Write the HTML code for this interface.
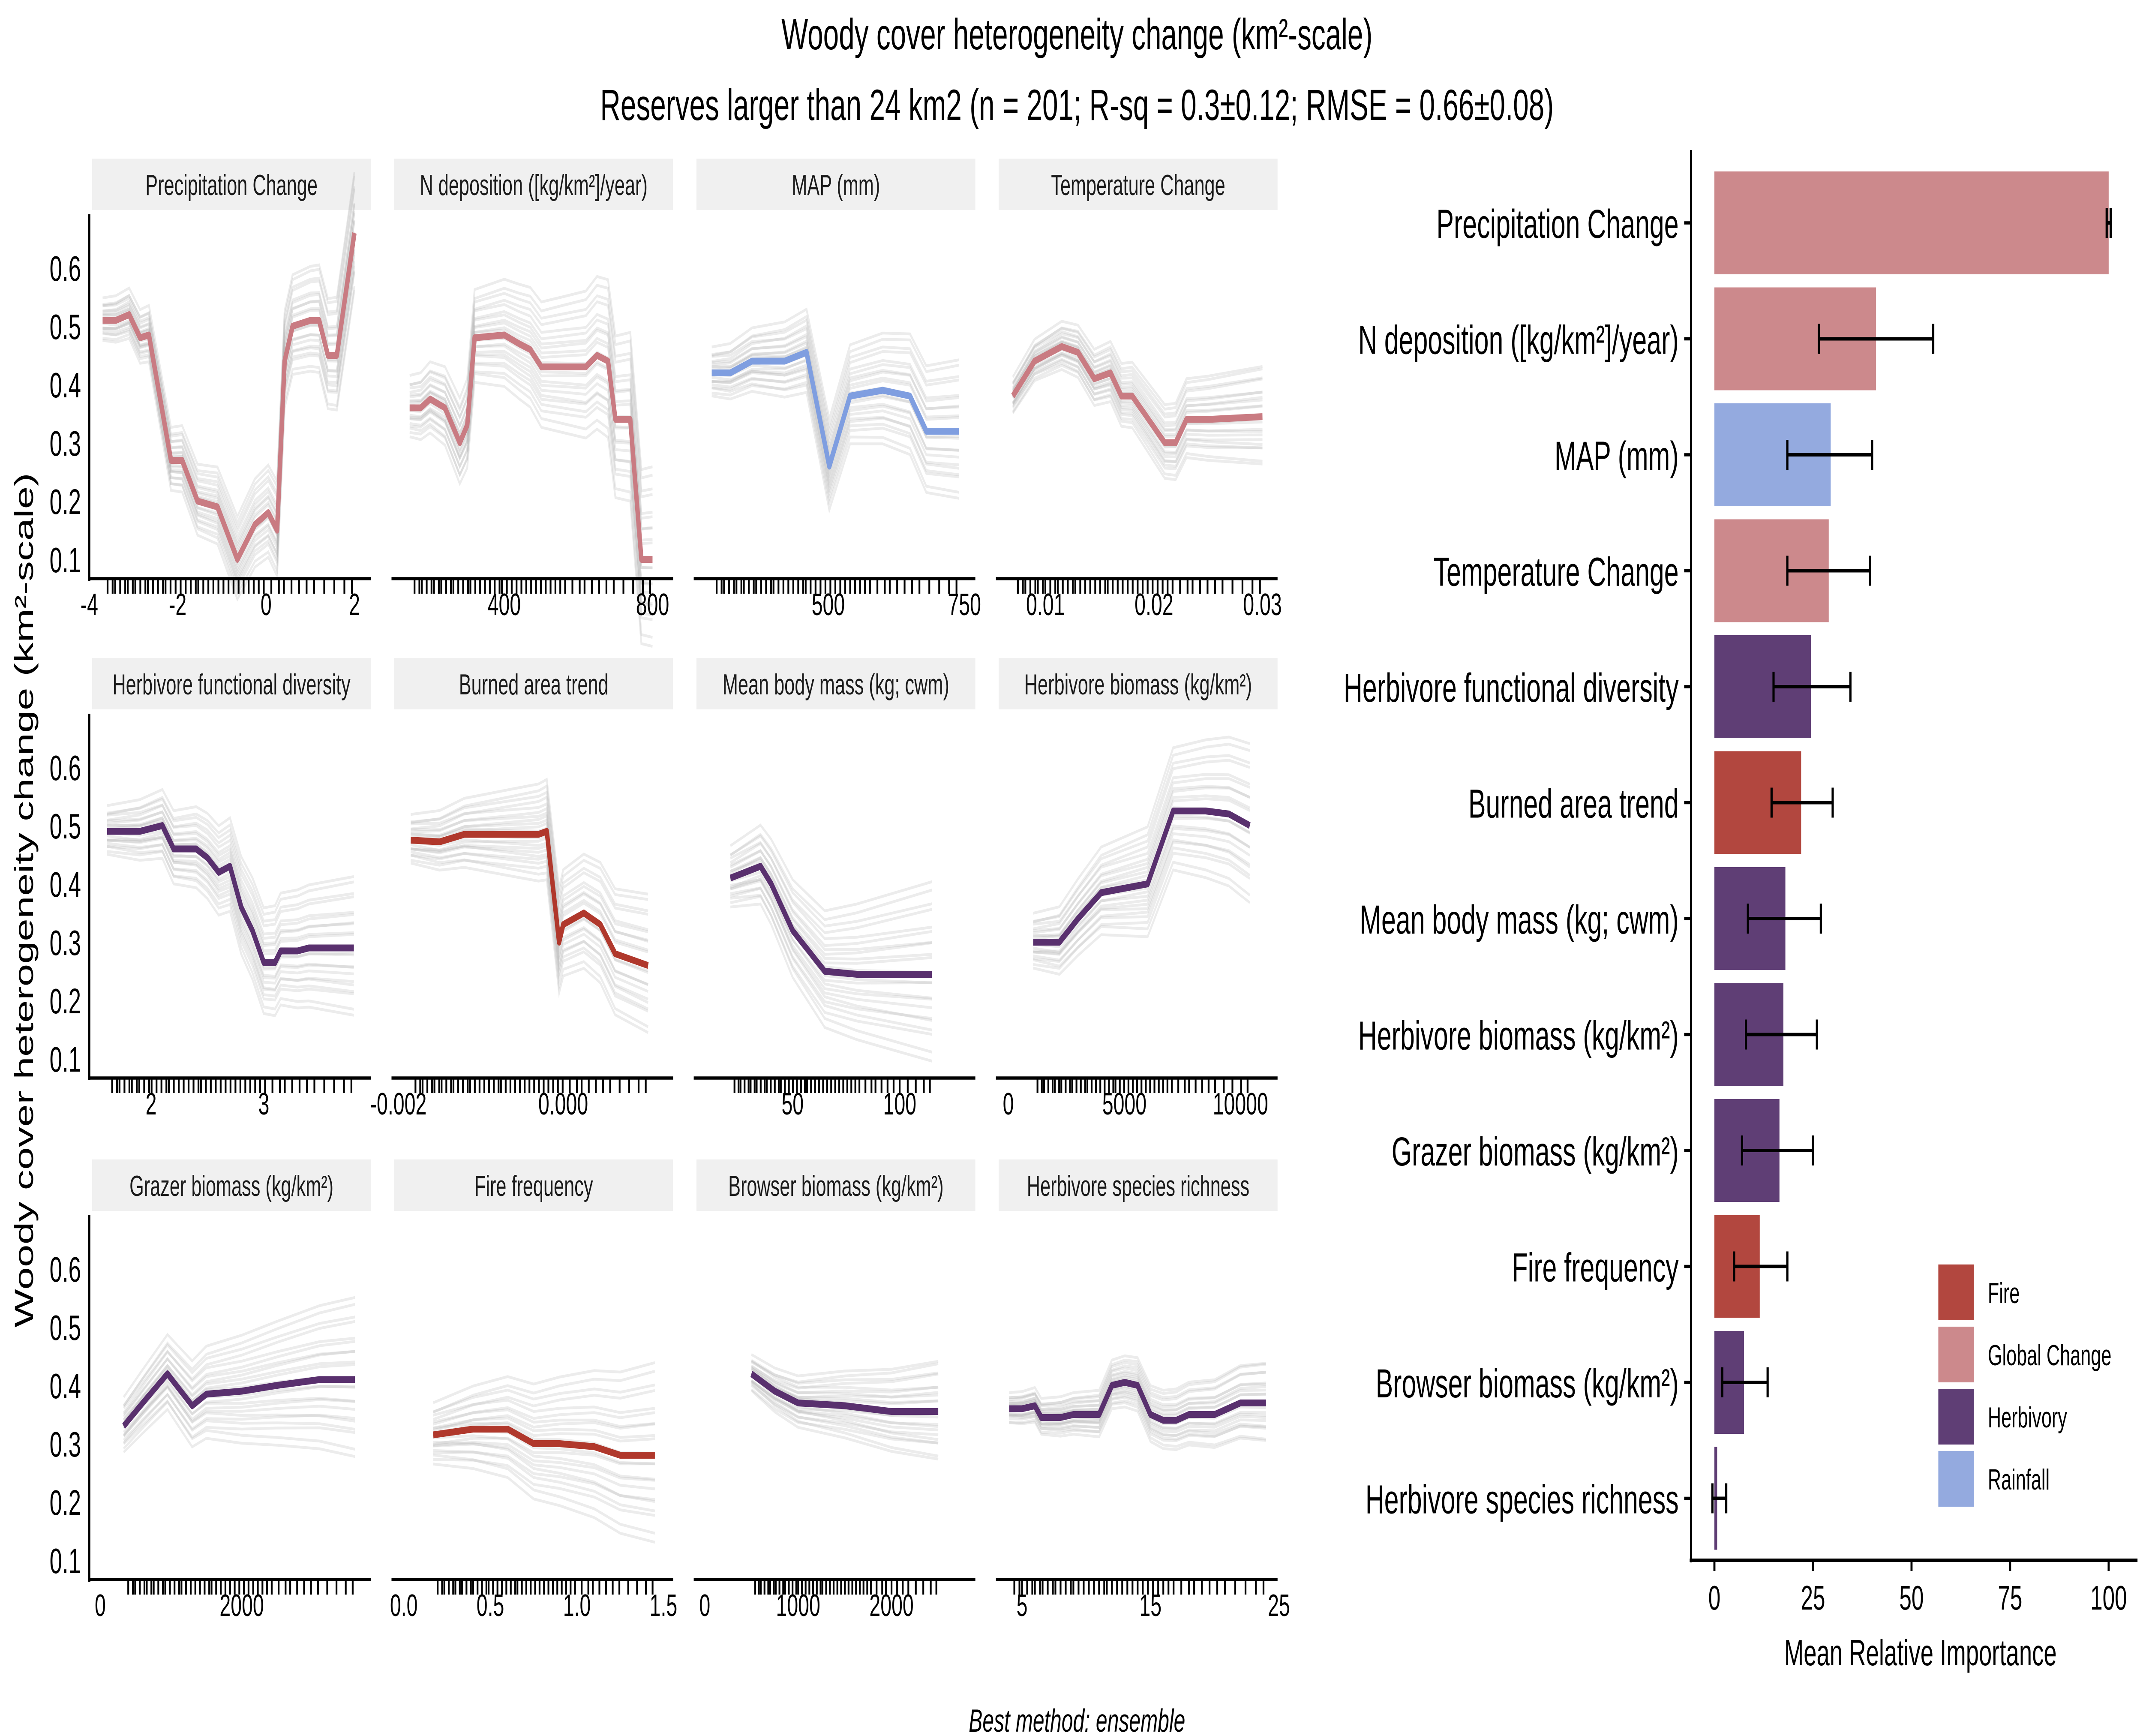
<!DOCTYPE html>
<html><head><meta charset="utf-8"><meta name="viewport" content="width=7800, initial-scale=1"><style>
html,body{margin:0;padding:0;background:#fff;width:100vw;height:100vh;overflow:hidden;}
svg{display:block;font-family:"Liberation Sans",sans-serif;width:100vw;height:100vh;}
</style></head><body>
<svg id="chart" viewBox="0 0 1560 810" preserveAspectRatio="none" xmlns="http://www.w3.org/2000/svg">
<rect x="0" y="0" width="1560" height="810" fill="#fff"/>
<text x="784" y="23" font-size="20.5" text-anchor="middle">Woody cover heterogeneity change (km²-scale)</text>
<text x="784" y="56" font-size="20.5" text-anchor="middle">Reserves larger than 24 km2 (n = 201; R-sq = 0.3±0.12; RMSE = 0.66±0.08)</text>
<text transform="translate(24,420) rotate(-90)" font-size="19" text-anchor="middle">Woody cover heterogeneity change (km²-scale)</text>
<text x="784" y="808" font-size="15" font-style="italic" text-anchor="middle">Best method: ensemble</text>
<g id="panels"></g>
<g id="bars"></g>
</svg>
<script>
// ---------- panel data ----------
const panelTitles = ["Precipitation Change","N deposition ([kg/km²]/year)","MAP (mm)","Temperature Change",
 "Herbivore functional diversity","Burned area trend","Mean body mass (kg; cwm)","Herbivore biomass (kg/km²)",
 "Grazer biomass (kg/km²)","Fire frequency","Browser biomass (kg/km²)","Herbivore species richness"];
const panelColors = ["#c97b82","#c97b82","#7f9ee0","#c97b82","#59306e","#b0382c","#59306e","#59306e","#59306e","#b0382c","#59306e","#59306e"];
const xDomains = [[-4,2.31],[96,848],[253,765],[0.00544,0.03114],[1.451,3.927],[-0.002083,0.0013],[3.85,134],[-533,11479],[-155,3786],[-0.071,1.54],[-118,2868],[2.97,24.68]];
const xTickVals = [[-4,-2,0,2],[400,800],[500,750],[0.01,0.02,0.03],[2,3],[-0.002,0.0],[50,100],[0,5000,10000],[0,2000],[0,0.5,1.0,1.5],[0,1000,2000],[5,15,25]];
const xTickLabels = [["-4","-2","0","2"],["400","800"],["500","750"],["0.01","0.02","0.03"],["2","3"],["-0.002","0.000"],["50","100"],["0","5000","10000"],["0","2000"],["0.0","0.5","1.0","1.5"],["0","1000","2000"],["5","15","25"]];
const px0 = [[-3.7,-3.4,-3.1,-2.85,-2.65,-2.15,-1.9,-1.55,-1.1,-0.65,-0.25,0.05,0.25,0.42,0.6,1.0,1.2,1.4,1.6,2.0],
 [145,175,200,240,280,300,320,400,440,470,500,560,620,650,680,700,740,770,800],
 [286,320,360,420,460,502,540,600,650,680,740],
 [0.007,0.009,0.0115,0.013,0.0145,0.016,0.017,0.018,0.0195,0.021,0.022,0.023,0.025,0.03],
 [1.61,1.9,2.1,2.2,2.4,2.5,2.6,2.7,2.8,2.9,3.0,3.1,3.15,3.3,3.4,3.8],
 [-0.00185,-0.0015,-0.0012,-0.0006,-0.0003,-0.0002,-0.00005,0.0,0.00025,0.00045,0.00063,0.00103],
 [21,35,40,50,65,80,115],
 [1070,2200,3000,4000,6000,7100,8500,9500,10400],
 [330,600,950,1300,1500,2000,2500,3100,3600],
 [0.17,0.4,0.6,0.75,0.9,1.1,1.25,1.45],
 [500,750,1000,1500,2000,2500],
 [4,5,6,6.5,8,9,11,12,13,14,15,16,17,18,20,21,22,24]];
const py0 = [[0.51,0.51,0.52,0.48,0.485,0.27,0.27,0.2,0.19,0.1,0.16,0.18,0.15,0.44,0.5,0.51,0.51,0.45,0.45,0.66],
 [0.36,0.36,0.375,0.36,0.3,0.33,0.48,0.485,0.47,0.46,0.43,0.43,0.43,0.45,0.44,0.34,0.34,0.1,0.1],
 [0.42,0.42,0.44,0.44,0.455,0.26,0.38,0.39,0.38,0.32,0.32],
 [0.38,0.44,0.465,0.455,0.41,0.42,0.38,0.38,0.34,0.3,0.3,0.34,0.34,0.345],
 [0.49,0.49,0.5,0.46,0.46,0.445,0.42,0.43,0.36,0.32,0.265,0.265,0.285,0.285,0.29,0.29],
 [0.475,0.472,0.485,0.485,0.485,0.49,0.3,0.33,0.35,0.33,0.28,0.26],
 [0.41,0.43,0.4,0.32,0.25,0.245,0.245],
 [0.3,0.3,0.34,0.385,0.4,0.525,0.525,0.52,0.5],
 [0.33,0.37,0.42,0.365,0.385,0.39,0.4,0.41,0.41],
 [0.315,0.325,0.325,0.3,0.3,0.295,0.28,0.28],
 [0.42,0.39,0.37,0.365,0.355,0.355],
 [0.36,0.36,0.365,0.345,0.345,0.35,0.35,0.4,0.405,0.4,0.35,0.34,0.34,0.35,0.35,0.36,0.37,0.37]];
const iceSpread = [0.06,0.09,0.07,0.05,0.07,0.07,0.09,0.08,0.08,0.09,0.05,0.04];
const iceOffsets = [-1.3,-1.1,-0.95,-0.8,-0.7,-0.6,-0.5,-0.4,-0.3,-0.2,-0.1,0,0.1,0.2,0.3,0.4,0.5,0.6,0.75,0.9,1.05,1.2,1.4];
const iceTilt = [0.3,-0.5,0.8,-0.2,0.6,-0.9,0.1,0.4,-0.6,0.9,-0.3,0.2,-0.8,0.5,-0.1,0.7,-0.4,0.3,-0.7,0.6,-0.2,0.4,-0.5];
const rugFrac = [0.02,0.04,0.05,0.07,0.09,0.1,0.12,0.13,0.15,0.17,0.18,0.2,0.22,0.24,0.25,0.27,0.29,0.31,0.33,0.35,0.37,0.38,0.4,0.42,0.44,0.46,0.48,0.5,0.52,0.54,0.56,0.58,0.6,0.62,0.64,0.67,0.7,0.72,0.75,0.78,0.81,0.84,0.88,0.92,0.96,0.99];
const yTicks = [0.1,0.2,0.3,0.4,0.5,0.6];

// ---------- bar data ----------
const barLabels = ["Precipitation Change","N deposition ([kg/km²]/year)","MAP (mm)","Temperature Change","Herbivore functional diversity","Burned area trend","Mean body mass (kg; cwm)","Herbivore biomass (kg/km²)","Grazer biomass (kg/km²)","Fire frequency","Browser biomass (kg/km²)","Herbivore species richness"];
const barValues = [100,41,29.5,29,24.5,22,18,17.5,16.5,11.5,7.5,0.7];
const barLow = [99.5,26.5,18.5,18.5,15,14.5,8.5,8,7,5,2,-0.5];
const barHigh = [100.5,55.5,40,39.5,34.5,30,27,26,25,18.5,13.5,3];
const barGroups = ["Global Change","Global Change","Rainfall","Global Change","Herbivory","Fire","Herbivory","Herbivory","Herbivory","Fire","Herbivory","Herbivory"];
const legendGroups = ["Fire","Global Change","Herbivory","Rainfall"];
const groupColors = {"Fire":"#b2473f","Global Change":"#cc898c","Herbivory":"#5f3e75","Rainfall":"#94aadf"};
const barTicks = [0,25,50,75,100];

const NS="http://www.w3.org/2000/svg";
function mk(tag,attrs,parent,text){const e=document.createElementNS(NS,tag);for(const k in attrs)e.setAttribute(k,attrs[k]);if(text!==undefined)e.textContent=text;parent.appendChild(e);return e;}

const colLeft=[65,285,505,725], colRight=[268,488,708,928];
const rowTop=[100,333,567];
const panels=document.getElementById('panels');
for(let p=0;p<12;p++){
  const r=Math.floor(p/4), c=p%4;
  const L=colLeft[c], R=colRight[c], axisY=rowTop[r]+170;
  const y01=rowTop[r]+161, ySc=27.2/0.1;
  const ys=v=>y01-(v-0.1)*ySc;
  const d=xDomains[p];
  const xs=v=>L+(v-d[0])/(d[1]-d[0])*(R-L);
  const g=mk('g',{},panels);
  
  
  const strip=mk('rect',{x:L+2,y:rowTop[r]-26,width:R-L,height:24,fill:'#f0f0f0'},g);
  
  
  const st=mk('text',{x:L+2+(R-L)/2,y:rowTop[r]-9,'font-size':'13.5','text-anchor':'middle',fill:'#1a1a1a'},g,panelTitles[p]);
  
  
  const xsArr=px0[p], ysArr=py0[p];
  const x0=xsArr[0], x1=xsArr[xsArr.length-1];
  for(let k=0;k<iceOffsets.length;k++){
    let dstr='';
    for(let i=0;i<xsArr.length;i++){
      const t=(xsArr[i]-x0)/(x1-x0);
      const v=ysArr[i]+iceOffsets[k]*iceSpread[p]*(0.4+0.9*t)+iceTilt[k]*0.02*(t-0.5);
      dstr+=(i?'L':'M')+xs(xsArr[i]).toFixed(1)+','+ys(v).toFixed(1);
    }
    const gl=mk('path',{d:dstr,fill:'none',stroke:'rgba(170,170,170,0.22)','stroke-width':'1.3'},g);
    
    
  }
  let md='';
  for(let i=0;i<xsArr.length;i++) md+=(i?'L':'M')+xs(xsArr[i]).toFixed(1)+','+ys(ysArr[i]).toFixed(1);
  const ml=mk('path',{d:md,fill:'none',stroke:panelColors[p],'stroke-width':'3.2','stroke-linejoin':'round'},g);
  
  
  const xa=mk('line',{x1:L,x2:R+2,y1:axisY,y2:axisY,stroke:'#000','stroke-width':'1.5'},g);
  
  
  for(let k=0;k<rugFrac.length;k++){
    const rx=xs(x0+rugFrac[k]*(x1-x0));
    const rl=mk('line',{x1:rx,x2:rx,y1:axisY,y2:axisY+7,stroke:'#000','stroke-width':'1.3'},g);
    
    
  }
  for(let k=0;k<xTickVals[p].length;k++){
    const tx=xs(xTickVals[p][k]);
    const tl=mk('text',{x:tx,y:axisY+17,'font-size':'14.5','text-anchor':'middle'},g,xTickLabels[p][k]);
    
    
  }
  if(c===0){
    const ya=mk('line',{x1:L,x2:L,y1:rowTop[r],y2:axisY+1,stroke:'#000','stroke-width':'1.5'},g);
    
    
    for(const v of yTicks){
      const yl=mk('text',{x:L-6,y:ys(v)+6,'font-size':'16.5','text-anchor':'end'},g,v.toFixed(1));
      
      
    }
  }
}

// ---------- bar chart ----------
const bars=document.getElementById('bars');
const bx0=1248, bx100=1535, bxs=v=>bx0+v/100*(bx100-bx0);
const rowY=i=>104+i*54.1;
const yAx=mk('line',{x1:1231,x2:1231,y1:70,y2:729,stroke:'#000','stroke-width':'1.6'},bars);


const xAx=mk('line',{x1:1230,x2:1556,y1:728,y2:728,stroke:'#000','stroke-width':'1.6'},bars);


for(let i=0;i<barValues.length;i++){
  const cy=rowY(i);
  const b=mk('rect',{x:bxs(0),y:cy-24,width:Math.max(bxs(barValues[i])-bxs(0),1),height:48,fill:groupColors[barGroups[i]]},bars);
  
  
  const e=mk('path',{d:`M${bxs(barLow[i])},${cy-7}V${cy+7}M${bxs(barLow[i])},${cy}H${bxs(barHigh[i])}M${bxs(barHigh[i])},${cy-7}V${cy+7}`,stroke:'#000','stroke-width':'1.6',fill:'none'},bars);
  
  
  const t=mk('line',{x1:1226,x2:1231,y1:cy,y2:cy,stroke:'#000','stroke-width':'1.5'},bars);
  
  
  const l=mk('text',{x:1222,y:cy+7,'font-size':'19','text-anchor':'end'},bars,barLabels[i]);
  
  
}
for(const v of barTicks){
  const t=mk('line',{x1:bxs(v),x2:bxs(v),y1:728,y2:733,stroke:'#000','stroke-width':'1.5'},bars);
  
  
  const l=mk('text',{x:bxs(v),y:751,'font-size':'16','text-anchor':'middle'},bars,String(v));
  
  
}
const xt=mk('text',{x:1398,y:777,'font-size':'17','text-anchor':'middle'},bars,'Mean Relative Importance');


for(let k=0;k<legendGroups.length;k++){
  const ly=590+k*29;
  const kk=mk('rect',{x:1411,y:ly,width:26,height:26,fill:groupColors[legendGroups[k]]},bars);
  
  
  const lt=mk('text',{x:1447,y:ly+18,'font-size':'13.5'},bars,legendGroups[k]);
  
  
}
</script>
</body></html>
